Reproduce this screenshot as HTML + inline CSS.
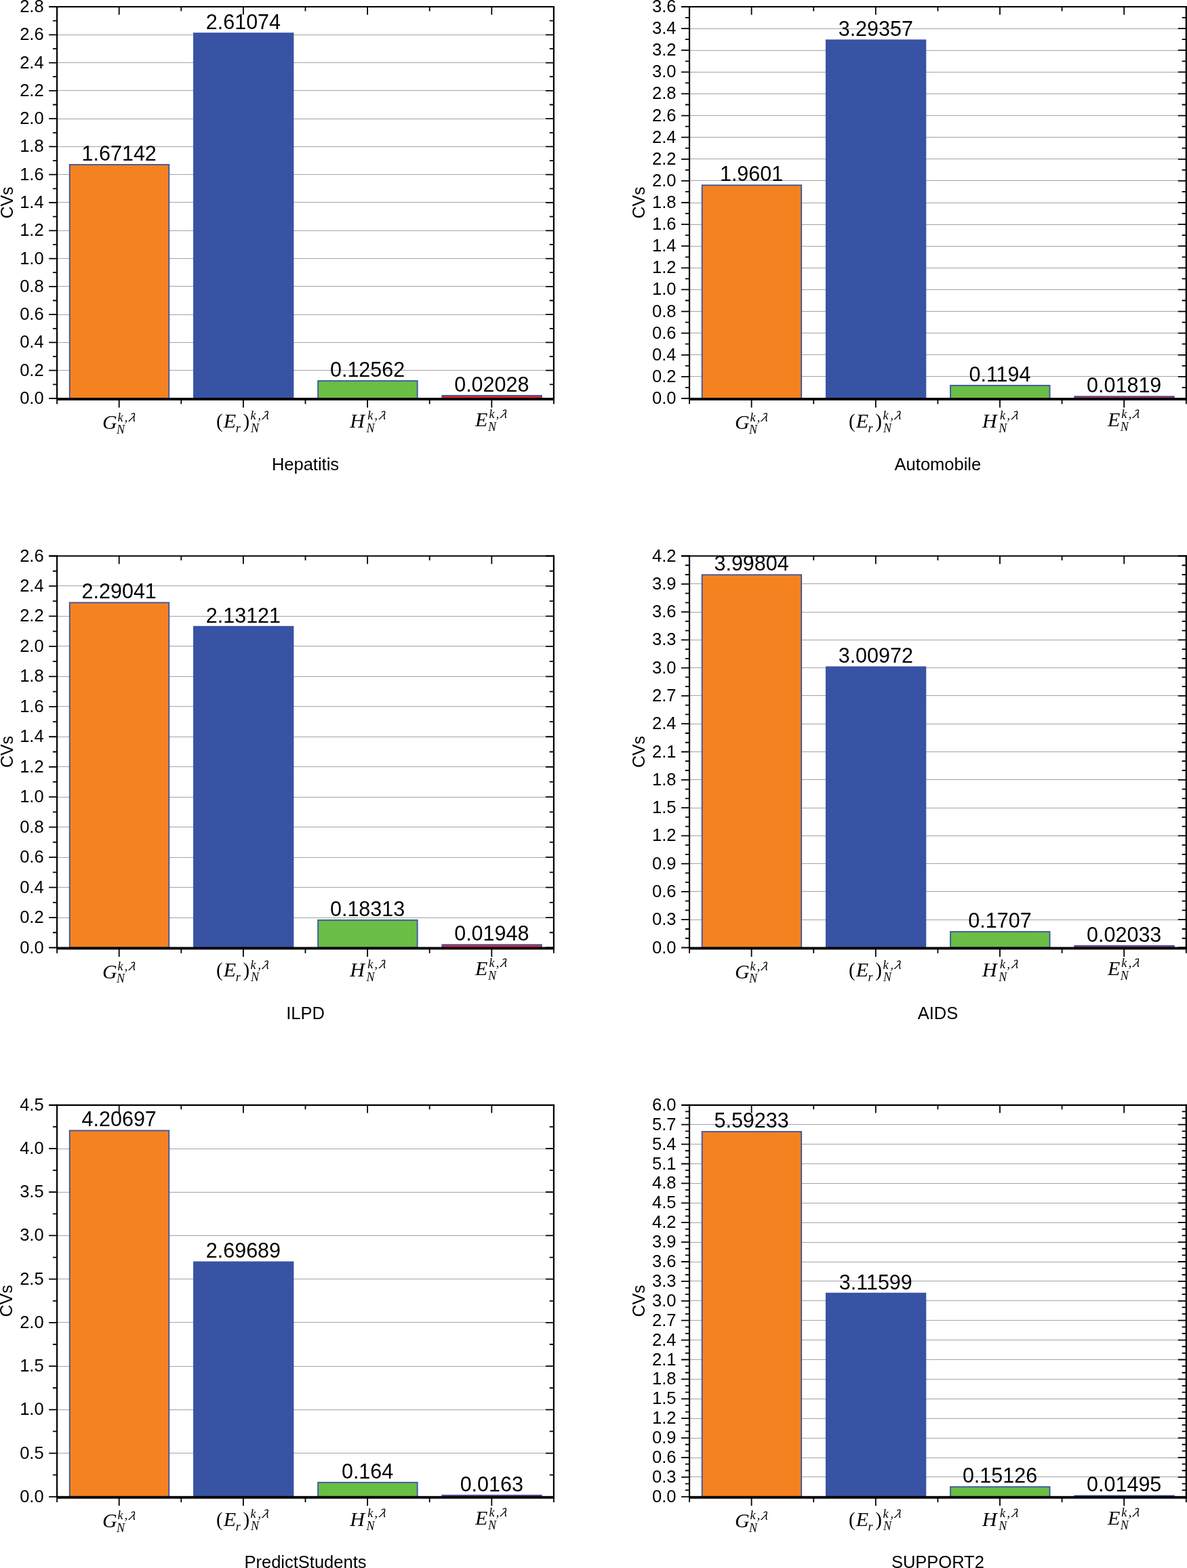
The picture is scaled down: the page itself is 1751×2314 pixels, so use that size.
<!DOCTYPE html>
<html><head><meta charset="utf-8"><title>CVs bar charts</title>
<style>
html,body{margin:0;padding:0;background:#fff;}
body{width:1751px;height:2314px;overflow:hidden;}
svg{display:block;}
</style></head>
<body>
<svg width="1751" height="2314" viewBox="0 0 1751 2314">
<rect width="1751" height="2314" fill="#fff"/>
<line x1="84.1" y1="546.5" x2="816.9" y2="546.5" stroke="#a4a4a4" stroke-width="1.2"/>
<line x1="84.1" y1="505.5" x2="816.9" y2="505.5" stroke="#a4a4a4" stroke-width="1.2"/>
<line x1="84.1" y1="464.5" x2="816.9" y2="464.5" stroke="#a4a4a4" stroke-width="1.2"/>
<line x1="84.1" y1="422.5" x2="816.9" y2="422.5" stroke="#a4a4a4" stroke-width="1.2"/>
<line x1="84.1" y1="381.5" x2="816.9" y2="381.5" stroke="#a4a4a4" stroke-width="1.2"/>
<line x1="84.1" y1="340.5" x2="816.9" y2="340.5" stroke="#a4a4a4" stroke-width="1.2"/>
<line x1="84.1" y1="298.5" x2="816.9" y2="298.5" stroke="#a4a4a4" stroke-width="1.2"/>
<line x1="84.1" y1="257.5" x2="816.9" y2="257.5" stroke="#a4a4a4" stroke-width="1.2"/>
<line x1="84.1" y1="216.5" x2="816.9" y2="216.5" stroke="#a4a4a4" stroke-width="1.2"/>
<line x1="84.1" y1="175.5" x2="816.9" y2="175.5" stroke="#a4a4a4" stroke-width="1.2"/>
<line x1="84.1" y1="133.5" x2="816.9" y2="133.5" stroke="#a4a4a4" stroke-width="1.2"/>
<line x1="84.1" y1="92.5" x2="816.9" y2="92.5" stroke="#a4a4a4" stroke-width="1.2"/>
<line x1="84.1" y1="51.5" x2="816.9" y2="51.5" stroke="#a4a4a4" stroke-width="1.2"/>
<rect x="102.72" y="242.97" width="146.56" height="345.03" fill="#F58220" stroke="#3953A4" stroke-width="1.8"/>
<rect x="285.92" y="49.07" width="146.56" height="538.93" fill="#3953A4" stroke="#3953A4" stroke-width="1.8"/>
<rect x="469.12" y="562.07" width="146.56" height="25.93" fill="#6ABD45" stroke="#3953A4" stroke-width="1.8"/>
<rect x="652.32" y="583.81" width="146.56" height="4.19" fill="#F0202A" stroke="#3953A4" stroke-width="1.8"/>
<line x1="84.1" y1="8.9" x2="84.1" y2="589" stroke="#000" stroke-width="2.2"/>
<line x1="816.9" y1="8.9" x2="816.9" y2="589" stroke="#000" stroke-width="2.2"/>
<line x1="72.1" y1="10" x2="818" y2="10" stroke="#000" stroke-width="2.2"/>
<rect x="84.1" y="587" width="733.9" height="3.9" fill="#000"/>
<text x="64.6" y="596" font-size="25.5" text-anchor="end" font-family="Liberation Sans, Arial, sans-serif">0.0</text>
<text x="64.6" y="554.71" font-size="25.5" text-anchor="end" font-family="Liberation Sans, Arial, sans-serif">0.2</text>
<text x="64.6" y="513.43" font-size="25.5" text-anchor="end" font-family="Liberation Sans, Arial, sans-serif">0.4</text>
<text x="64.6" y="472.14" font-size="25.5" text-anchor="end" font-family="Liberation Sans, Arial, sans-serif">0.6</text>
<text x="64.6" y="430.86" font-size="25.5" text-anchor="end" font-family="Liberation Sans, Arial, sans-serif">0.8</text>
<text x="64.6" y="389.57" font-size="25.5" text-anchor="end" font-family="Liberation Sans, Arial, sans-serif">1.0</text>
<text x="64.6" y="348.29" font-size="25.5" text-anchor="end" font-family="Liberation Sans, Arial, sans-serif">1.2</text>
<text x="64.6" y="307" font-size="25.5" text-anchor="end" font-family="Liberation Sans, Arial, sans-serif">1.4</text>
<text x="64.6" y="265.71" font-size="25.5" text-anchor="end" font-family="Liberation Sans, Arial, sans-serif">1.6</text>
<text x="64.6" y="224.43" font-size="25.5" text-anchor="end" font-family="Liberation Sans, Arial, sans-serif">1.8</text>
<text x="64.6" y="183.14" font-size="25.5" text-anchor="end" font-family="Liberation Sans, Arial, sans-serif">2.0</text>
<text x="64.6" y="141.86" font-size="25.5" text-anchor="end" font-family="Liberation Sans, Arial, sans-serif">2.2</text>
<text x="64.6" y="100.57" font-size="25.5" text-anchor="end" font-family="Liberation Sans, Arial, sans-serif">2.4</text>
<text x="64.6" y="59.29" font-size="25.5" text-anchor="end" font-family="Liberation Sans, Arial, sans-serif">2.6</text>
<text x="64.6" y="18" font-size="25.5" text-anchor="end" font-family="Liberation Sans, Arial, sans-serif">2.8</text>
<path d="M72.1 588H84.1M804.9 588H816.9M77.9 567.36H84.1M810.7 567.36H816.9M72.1 546.71H84.1M804.9 546.71H816.9M77.9 526.07H84.1M810.7 526.07H816.9M72.1 505.43H84.1M804.9 505.43H816.9M77.9 484.79H84.1M810.7 484.79H816.9M72.1 464.14H84.1M804.9 464.14H816.9M77.9 443.5H84.1M810.7 443.5H816.9M72.1 422.86H84.1M804.9 422.86H816.9M77.9 402.21H84.1M810.7 402.21H816.9M72.1 381.57H84.1M804.9 381.57H816.9M77.9 360.93H84.1M810.7 360.93H816.9M72.1 340.29H84.1M804.9 340.29H816.9M77.9 319.64H84.1M810.7 319.64H816.9M72.1 299H84.1M804.9 299H816.9M77.9 278.36H84.1M810.7 278.36H816.9M72.1 257.71H84.1M804.9 257.71H816.9M77.9 237.07H84.1M810.7 237.07H816.9M72.1 216.43H84.1M804.9 216.43H816.9M77.9 195.79H84.1M810.7 195.79H816.9M72.1 175.14H84.1M804.9 175.14H816.9M77.9 154.5H84.1M810.7 154.5H816.9M72.1 133.86H84.1M804.9 133.86H816.9M77.9 113.21H84.1M810.7 113.21H816.9M72.1 92.57H84.1M804.9 92.57H816.9M77.9 71.93H84.1M810.7 71.93H816.9M72.1 51.29H84.1M804.9 51.29H816.9M77.9 30.64H84.1M810.7 30.64H816.9M72.1 10H84.1M804.9 10H816.9M84.1 10V16.4M84.1 588V596.2M175.7 10V21.7M175.7 588V601.5M267.3 10V16.4M267.3 588V596.2M358.9 10V21.7M358.9 588V601.5M450.5 10V16.4M450.5 588V596.2M542.1 10V21.7M542.1 588V601.5M633.7 10V16.4M633.7 588V596.2M725.3 10V21.7M725.3 588V601.5M816.9 10V16.4M816.9 588V596.2" stroke="#000" stroke-width="1.8" fill="none"/>
<text x="175.7" y="236.87" font-size="30.5" text-anchor="middle" font-family="Liberation Sans, Arial, sans-serif">1.67142</text>
<text x="358.9" y="42.97" font-size="30.5" text-anchor="middle" font-family="Liberation Sans, Arial, sans-serif">2.61074</text>
<text x="542.1" y="555.97" font-size="30.5" text-anchor="middle" font-family="Liberation Sans, Arial, sans-serif">0.12562</text>
<text x="725.3" y="577.71" font-size="30.5" text-anchor="middle" font-family="Liberation Sans, Arial, sans-serif">0.02028</text>
<text x="151.05" y="633.1" font-size="30" font-family="Liberation Serif, serif" font-style="italic">G</text>
<text x="173.6" y="621.5" font-size="18" font-family="Liberation Serif, serif" font-style="italic">k</text>
<text x="183.8" y="621.5" font-size="18" font-family="Liberation Serif, serif" font-style="italic">,</text>
<text x="185.2" y="622.7" font-size="18" font-family="IPAGothic, Liberation Serif, serif" font-style="italic">λ</text>
<text x="172.1" y="639.7" font-size="18" font-family="Liberation Serif, serif" font-style="italic">N</text>
<text x="319.1" y="630.86" font-size="29" font-family="Liberation Serif, serif">(</text>
<text x="329.75" y="630.9" font-size="30" font-family="Liberation Serif, serif" font-style="italic">E</text>
<text x="347.65" y="637.8" font-size="18" font-family="Liberation Serif, serif" font-style="italic">r</text>
<text x="358.43" y="630.86" font-size="29" font-family="Liberation Serif, serif">)</text>
<text x="369.6" y="619.3" font-size="18" font-family="Liberation Serif, serif" font-style="italic">k</text>
<text x="380.6" y="619.3" font-size="18" font-family="Liberation Serif, serif" font-style="italic">,</text>
<text x="381.9" y="620.3" font-size="18" font-family="IPAGothic, Liberation Serif, serif" font-style="italic">λ</text>
<text x="370.1" y="637.6" font-size="18" font-family="Liberation Serif, serif" font-style="italic">N</text>
<text x="516.15" y="630.8" font-size="30" font-family="Liberation Serif, serif" font-style="italic">H</text>
<text x="542.2" y="618.6" font-size="18" font-family="Liberation Serif, serif" font-style="italic">k</text>
<text x="552.6" y="618.6" font-size="18" font-family="Liberation Serif, serif" font-style="italic">,</text>
<text x="554.5" y="619.6" font-size="18" font-family="IPAGothic, Liberation Serif, serif" font-style="italic">λ</text>
<text x="540.4" y="637.6" font-size="18" font-family="Liberation Serif, serif" font-style="italic">N</text>
<text x="701.05" y="628.8" font-size="30" font-family="Liberation Serif, serif" font-style="italic">E</text>
<text x="721.4" y="616.8" font-size="18" font-family="Liberation Serif, serif" font-style="italic">k</text>
<text x="731.8" y="616.8" font-size="18" font-family="Liberation Serif, serif" font-style="italic">,</text>
<text x="733.3" y="617.8" font-size="18" font-family="IPAGothic, Liberation Serif, serif" font-style="italic">λ</text>
<text x="719.9" y="635.8" font-size="18" font-family="Liberation Serif, serif" font-style="italic">N</text>
<text x="18.5" y="299" transform="rotate(-90 18.5 299)" font-size="25" text-anchor="middle" font-family="Liberation Sans, Arial, sans-serif">CVs</text>
<text x="450.5" y="693.6" font-size="25.5" text-anchor="middle" font-family="Liberation Sans, Arial, sans-serif">Hepatitis</text>
<line x1="1017" y1="555.5" x2="1749.8" y2="555.5" stroke="#a4a4a4" stroke-width="1.2"/>
<line x1="1017" y1="523.5" x2="1749.8" y2="523.5" stroke="#a4a4a4" stroke-width="1.2"/>
<line x1="1017" y1="491.5" x2="1749.8" y2="491.5" stroke="#a4a4a4" stroke-width="1.2"/>
<line x1="1017" y1="459.5" x2="1749.8" y2="459.5" stroke="#a4a4a4" stroke-width="1.2"/>
<line x1="1017" y1="427.5" x2="1749.8" y2="427.5" stroke="#a4a4a4" stroke-width="1.2"/>
<line x1="1017" y1="395.5" x2="1749.8" y2="395.5" stroke="#a4a4a4" stroke-width="1.2"/>
<line x1="1017" y1="363.5" x2="1749.8" y2="363.5" stroke="#a4a4a4" stroke-width="1.2"/>
<line x1="1017" y1="331.5" x2="1749.8" y2="331.5" stroke="#a4a4a4" stroke-width="1.2"/>
<line x1="1017" y1="299.5" x2="1749.8" y2="299.5" stroke="#a4a4a4" stroke-width="1.2"/>
<line x1="1017" y1="266.5" x2="1749.8" y2="266.5" stroke="#a4a4a4" stroke-width="1.2"/>
<line x1="1017" y1="234.5" x2="1749.8" y2="234.5" stroke="#a4a4a4" stroke-width="1.2"/>
<line x1="1017" y1="202.5" x2="1749.8" y2="202.5" stroke="#a4a4a4" stroke-width="1.2"/>
<line x1="1017" y1="170.5" x2="1749.8" y2="170.5" stroke="#a4a4a4" stroke-width="1.2"/>
<line x1="1017" y1="138.5" x2="1749.8" y2="138.5" stroke="#a4a4a4" stroke-width="1.2"/>
<line x1="1017" y1="106.5" x2="1749.8" y2="106.5" stroke="#a4a4a4" stroke-width="1.2"/>
<line x1="1017" y1="74.5" x2="1749.8" y2="74.5" stroke="#a4a4a4" stroke-width="1.2"/>
<line x1="1017" y1="42.5" x2="1749.8" y2="42.5" stroke="#a4a4a4" stroke-width="1.2"/>
<rect x="1035.62" y="273.3" width="146.56" height="314.7" fill="#F58220" stroke="#3953A4" stroke-width="1.8"/>
<rect x="1218.82" y="59.2" width="146.56" height="528.8" fill="#3953A4" stroke="#3953A4" stroke-width="1.8"/>
<rect x="1402.02" y="568.83" width="146.56" height="19.17" fill="#6ABD45" stroke="#3953A4" stroke-width="1.8"/>
<rect x="1585.22" y="585.08" width="146.56" height="2.92" fill="#F0202A" stroke="#3953A4" stroke-width="1.8"/>
<line x1="1017" y1="8.9" x2="1017" y2="589" stroke="#000" stroke-width="2.2"/>
<line x1="1749.8" y1="8.9" x2="1749.8" y2="589" stroke="#000" stroke-width="2.2"/>
<line x1="1005" y1="10" x2="1750.9" y2="10" stroke="#000" stroke-width="2.2"/>
<rect x="1017" y="587" width="733.9" height="3.9" fill="#000"/>
<text x="997.5" y="596" font-size="25.5" text-anchor="end" font-family="Liberation Sans, Arial, sans-serif">0.0</text>
<text x="997.5" y="563.89" font-size="25.5" text-anchor="end" font-family="Liberation Sans, Arial, sans-serif">0.2</text>
<text x="997.5" y="531.78" font-size="25.5" text-anchor="end" font-family="Liberation Sans, Arial, sans-serif">0.4</text>
<text x="997.5" y="499.67" font-size="25.5" text-anchor="end" font-family="Liberation Sans, Arial, sans-serif">0.6</text>
<text x="997.5" y="467.56" font-size="25.5" text-anchor="end" font-family="Liberation Sans, Arial, sans-serif">0.8</text>
<text x="997.5" y="435.44" font-size="25.5" text-anchor="end" font-family="Liberation Sans, Arial, sans-serif">1.0</text>
<text x="997.5" y="403.33" font-size="25.5" text-anchor="end" font-family="Liberation Sans, Arial, sans-serif">1.2</text>
<text x="997.5" y="371.22" font-size="25.5" text-anchor="end" font-family="Liberation Sans, Arial, sans-serif">1.4</text>
<text x="997.5" y="339.11" font-size="25.5" text-anchor="end" font-family="Liberation Sans, Arial, sans-serif">1.6</text>
<text x="997.5" y="307" font-size="25.5" text-anchor="end" font-family="Liberation Sans, Arial, sans-serif">1.8</text>
<text x="997.5" y="274.89" font-size="25.5" text-anchor="end" font-family="Liberation Sans, Arial, sans-serif">2.0</text>
<text x="997.5" y="242.78" font-size="25.5" text-anchor="end" font-family="Liberation Sans, Arial, sans-serif">2.2</text>
<text x="997.5" y="210.67" font-size="25.5" text-anchor="end" font-family="Liberation Sans, Arial, sans-serif">2.4</text>
<text x="997.5" y="178.56" font-size="25.5" text-anchor="end" font-family="Liberation Sans, Arial, sans-serif">2.6</text>
<text x="997.5" y="146.44" font-size="25.5" text-anchor="end" font-family="Liberation Sans, Arial, sans-serif">2.8</text>
<text x="997.5" y="114.33" font-size="25.5" text-anchor="end" font-family="Liberation Sans, Arial, sans-serif">3.0</text>
<text x="997.5" y="82.22" font-size="25.5" text-anchor="end" font-family="Liberation Sans, Arial, sans-serif">3.2</text>
<text x="997.5" y="50.11" font-size="25.5" text-anchor="end" font-family="Liberation Sans, Arial, sans-serif">3.4</text>
<text x="997.5" y="18" font-size="25.5" text-anchor="end" font-family="Liberation Sans, Arial, sans-serif">3.6</text>
<path d="M1005 588H1017M1737.8 588H1749.8M1010.8 571.94H1017M1743.6 571.94H1749.8M1005 555.89H1017M1737.8 555.89H1749.8M1010.8 539.83H1017M1743.6 539.83H1749.8M1005 523.78H1017M1737.8 523.78H1749.8M1010.8 507.72H1017M1743.6 507.72H1749.8M1005 491.67H1017M1737.8 491.67H1749.8M1010.8 475.61H1017M1743.6 475.61H1749.8M1005 459.56H1017M1737.8 459.56H1749.8M1010.8 443.5H1017M1743.6 443.5H1749.8M1005 427.44H1017M1737.8 427.44H1749.8M1010.8 411.39H1017M1743.6 411.39H1749.8M1005 395.33H1017M1737.8 395.33H1749.8M1010.8 379.28H1017M1743.6 379.28H1749.8M1005 363.22H1017M1737.8 363.22H1749.8M1010.8 347.17H1017M1743.6 347.17H1749.8M1005 331.11H1017M1737.8 331.11H1749.8M1010.8 315.06H1017M1743.6 315.06H1749.8M1005 299H1017M1737.8 299H1749.8M1010.8 282.94H1017M1743.6 282.94H1749.8M1005 266.89H1017M1737.8 266.89H1749.8M1010.8 250.83H1017M1743.6 250.83H1749.8M1005 234.78H1017M1737.8 234.78H1749.8M1010.8 218.72H1017M1743.6 218.72H1749.8M1005 202.67H1017M1737.8 202.67H1749.8M1010.8 186.61H1017M1743.6 186.61H1749.8M1005 170.56H1017M1737.8 170.56H1749.8M1010.8 154.5H1017M1743.6 154.5H1749.8M1005 138.44H1017M1737.8 138.44H1749.8M1010.8 122.39H1017M1743.6 122.39H1749.8M1005 106.33H1017M1737.8 106.33H1749.8M1010.8 90.28H1017M1743.6 90.28H1749.8M1005 74.22H1017M1737.8 74.22H1749.8M1010.8 58.17H1017M1743.6 58.17H1749.8M1005 42.11H1017M1737.8 42.11H1749.8M1010.8 26.06H1017M1743.6 26.06H1749.8M1005 10H1017M1737.8 10H1749.8M1017 10V16.4M1017 588V596.2M1108.6 10V21.7M1108.6 588V601.5M1200.2 10V16.4M1200.2 588V596.2M1291.8 10V21.7M1291.8 588V601.5M1383.4 10V16.4M1383.4 588V596.2M1475 10V21.7M1475 588V601.5M1566.6 10V16.4M1566.6 588V596.2M1658.2 10V21.7M1658.2 588V601.5M1749.8 10V16.4M1749.8 588V596.2" stroke="#000" stroke-width="1.8" fill="none"/>
<text x="1108.6" y="267.2" font-size="30.5" text-anchor="middle" font-family="Liberation Sans, Arial, sans-serif">1.9601</text>
<text x="1291.8" y="53.1" font-size="30.5" text-anchor="middle" font-family="Liberation Sans, Arial, sans-serif">3.29357</text>
<text x="1475" y="562.73" font-size="30.5" text-anchor="middle" font-family="Liberation Sans, Arial, sans-serif">0.1194</text>
<text x="1658.2" y="578.98" font-size="30.5" text-anchor="middle" font-family="Liberation Sans, Arial, sans-serif">0.01819</text>
<text x="1083.95" y="633.1" font-size="30" font-family="Liberation Serif, serif" font-style="italic">G</text>
<text x="1106.5" y="621.5" font-size="18" font-family="Liberation Serif, serif" font-style="italic">k</text>
<text x="1116.7" y="621.5" font-size="18" font-family="Liberation Serif, serif" font-style="italic">,</text>
<text x="1118.1" y="622.7" font-size="18" font-family="IPAGothic, Liberation Serif, serif" font-style="italic">λ</text>
<text x="1105" y="639.7" font-size="18" font-family="Liberation Serif, serif" font-style="italic">N</text>
<text x="1252" y="630.86" font-size="29" font-family="Liberation Serif, serif">(</text>
<text x="1262.65" y="630.9" font-size="30" font-family="Liberation Serif, serif" font-style="italic">E</text>
<text x="1280.55" y="637.8" font-size="18" font-family="Liberation Serif, serif" font-style="italic">r</text>
<text x="1291.33" y="630.86" font-size="29" font-family="Liberation Serif, serif">)</text>
<text x="1302.5" y="619.3" font-size="18" font-family="Liberation Serif, serif" font-style="italic">k</text>
<text x="1313.5" y="619.3" font-size="18" font-family="Liberation Serif, serif" font-style="italic">,</text>
<text x="1314.8" y="620.3" font-size="18" font-family="IPAGothic, Liberation Serif, serif" font-style="italic">λ</text>
<text x="1303" y="637.6" font-size="18" font-family="Liberation Serif, serif" font-style="italic">N</text>
<text x="1449.05" y="630.8" font-size="30" font-family="Liberation Serif, serif" font-style="italic">H</text>
<text x="1475.1" y="618.6" font-size="18" font-family="Liberation Serif, serif" font-style="italic">k</text>
<text x="1485.5" y="618.6" font-size="18" font-family="Liberation Serif, serif" font-style="italic">,</text>
<text x="1487.4" y="619.6" font-size="18" font-family="IPAGothic, Liberation Serif, serif" font-style="italic">λ</text>
<text x="1473.3" y="637.6" font-size="18" font-family="Liberation Serif, serif" font-style="italic">N</text>
<text x="1633.95" y="628.8" font-size="30" font-family="Liberation Serif, serif" font-style="italic">E</text>
<text x="1654.3" y="616.8" font-size="18" font-family="Liberation Serif, serif" font-style="italic">k</text>
<text x="1664.7" y="616.8" font-size="18" font-family="Liberation Serif, serif" font-style="italic">,</text>
<text x="1666.2" y="617.8" font-size="18" font-family="IPAGothic, Liberation Serif, serif" font-style="italic">λ</text>
<text x="1652.8" y="635.8" font-size="18" font-family="Liberation Serif, serif" font-style="italic">N</text>
<text x="951.4" y="299" transform="rotate(-90 951.4 299)" font-size="25" text-anchor="middle" font-family="Liberation Sans, Arial, sans-serif">CVs</text>
<text x="1383.4" y="693.6" font-size="25.5" text-anchor="middle" font-family="Liberation Sans, Arial, sans-serif">Automobile</text>
<line x1="84.1" y1="1354.5" x2="816.9" y2="1354.5" stroke="#a4a4a4" stroke-width="1.2"/>
<line x1="84.1" y1="1309.5" x2="816.9" y2="1309.5" stroke="#a4a4a4" stroke-width="1.2"/>
<line x1="84.1" y1="1265.5" x2="816.9" y2="1265.5" stroke="#a4a4a4" stroke-width="1.2"/>
<line x1="84.1" y1="1220.5" x2="816.9" y2="1220.5" stroke="#a4a4a4" stroke-width="1.2"/>
<line x1="84.1" y1="1176.5" x2="816.9" y2="1176.5" stroke="#a4a4a4" stroke-width="1.2"/>
<line x1="84.1" y1="1131.5" x2="816.9" y2="1131.5" stroke="#a4a4a4" stroke-width="1.2"/>
<line x1="84.1" y1="1087.5" x2="816.9" y2="1087.5" stroke="#a4a4a4" stroke-width="1.2"/>
<line x1="84.1" y1="1042.5" x2="816.9" y2="1042.5" stroke="#a4a4a4" stroke-width="1.2"/>
<line x1="84.1" y1="998.5" x2="816.9" y2="998.5" stroke="#a4a4a4" stroke-width="1.2"/>
<line x1="84.1" y1="953.5" x2="816.9" y2="953.5" stroke="#a4a4a4" stroke-width="1.2"/>
<line x1="84.1" y1="909.5" x2="816.9" y2="909.5" stroke="#a4a4a4" stroke-width="1.2"/>
<line x1="84.1" y1="864.5" x2="816.9" y2="864.5" stroke="#a4a4a4" stroke-width="1.2"/>
<rect x="102.72" y="889.32" width="146.56" height="509.18" fill="#F58220" stroke="#3953A4" stroke-width="1.8"/>
<rect x="285.92" y="924.72" width="146.56" height="473.78" fill="#3953A4" stroke="#3953A4" stroke-width="1.8"/>
<rect x="469.12" y="1357.79" width="146.56" height="40.71" fill="#6ABD45" stroke="#3953A4" stroke-width="1.8"/>
<rect x="652.32" y="1394.17" width="146.56" height="4.33" fill="#F0202A" stroke="#3953A4" stroke-width="1.8"/>
<line x1="84.1" y1="819.4" x2="84.1" y2="1399.5" stroke="#000" stroke-width="2.2"/>
<line x1="816.9" y1="819.4" x2="816.9" y2="1399.5" stroke="#000" stroke-width="2.2"/>
<line x1="72.1" y1="820.5" x2="818" y2="820.5" stroke="#000" stroke-width="2.2"/>
<rect x="84.1" y="1397.5" width="733.9" height="3.9" fill="#000"/>
<text x="64.6" y="1406.5" font-size="25.5" text-anchor="end" font-family="Liberation Sans, Arial, sans-serif">0.0</text>
<text x="64.6" y="1362.04" font-size="25.5" text-anchor="end" font-family="Liberation Sans, Arial, sans-serif">0.2</text>
<text x="64.6" y="1317.58" font-size="25.5" text-anchor="end" font-family="Liberation Sans, Arial, sans-serif">0.4</text>
<text x="64.6" y="1273.12" font-size="25.5" text-anchor="end" font-family="Liberation Sans, Arial, sans-serif">0.6</text>
<text x="64.6" y="1228.65" font-size="25.5" text-anchor="end" font-family="Liberation Sans, Arial, sans-serif">0.8</text>
<text x="64.6" y="1184.19" font-size="25.5" text-anchor="end" font-family="Liberation Sans, Arial, sans-serif">1.0</text>
<text x="64.6" y="1139.73" font-size="25.5" text-anchor="end" font-family="Liberation Sans, Arial, sans-serif">1.2</text>
<text x="64.6" y="1095.27" font-size="25.5" text-anchor="end" font-family="Liberation Sans, Arial, sans-serif">1.4</text>
<text x="64.6" y="1050.81" font-size="25.5" text-anchor="end" font-family="Liberation Sans, Arial, sans-serif">1.6</text>
<text x="64.6" y="1006.35" font-size="25.5" text-anchor="end" font-family="Liberation Sans, Arial, sans-serif">1.8</text>
<text x="64.6" y="961.88" font-size="25.5" text-anchor="end" font-family="Liberation Sans, Arial, sans-serif">2.0</text>
<text x="64.6" y="917.42" font-size="25.5" text-anchor="end" font-family="Liberation Sans, Arial, sans-serif">2.2</text>
<text x="64.6" y="872.96" font-size="25.5" text-anchor="end" font-family="Liberation Sans, Arial, sans-serif">2.4</text>
<text x="64.6" y="828.5" font-size="25.5" text-anchor="end" font-family="Liberation Sans, Arial, sans-serif">2.6</text>
<path d="M72.1 1398.5H84.1M804.9 1398.5H816.9M77.9 1376.27H84.1M810.7 1376.27H816.9M72.1 1354.04H84.1M804.9 1354.04H816.9M77.9 1331.81H84.1M810.7 1331.81H816.9M72.1 1309.58H84.1M804.9 1309.58H816.9M77.9 1287.35H84.1M810.7 1287.35H816.9M72.1 1265.12H84.1M804.9 1265.12H816.9M77.9 1242.88H84.1M810.7 1242.88H816.9M72.1 1220.65H84.1M804.9 1220.65H816.9M77.9 1198.42H84.1M810.7 1198.42H816.9M72.1 1176.19H84.1M804.9 1176.19H816.9M77.9 1153.96H84.1M810.7 1153.96H816.9M72.1 1131.73H84.1M804.9 1131.73H816.9M77.9 1109.5H84.1M810.7 1109.5H816.9M72.1 1087.27H84.1M804.9 1087.27H816.9M77.9 1065.04H84.1M810.7 1065.04H816.9M72.1 1042.81H84.1M804.9 1042.81H816.9M77.9 1020.58H84.1M810.7 1020.58H816.9M72.1 998.35H84.1M804.9 998.35H816.9M77.9 976.12H84.1M810.7 976.12H816.9M72.1 953.88H84.1M804.9 953.88H816.9M77.9 931.65H84.1M810.7 931.65H816.9M72.1 909.42H84.1M804.9 909.42H816.9M77.9 887.19H84.1M810.7 887.19H816.9M72.1 864.96H84.1M804.9 864.96H816.9M77.9 842.73H84.1M810.7 842.73H816.9M72.1 820.5H84.1M804.9 820.5H816.9M84.1 820.5V826.9M84.1 1398.5V1406.7M175.7 820.5V832.2M175.7 1398.5V1412M267.3 820.5V826.9M267.3 1398.5V1406.7M358.9 820.5V832.2M358.9 1398.5V1412M450.5 820.5V826.9M450.5 1398.5V1406.7M542.1 820.5V832.2M542.1 1398.5V1412M633.7 820.5V826.9M633.7 1398.5V1406.7M725.3 820.5V832.2M725.3 1398.5V1412M816.9 820.5V826.9M816.9 1398.5V1406.7" stroke="#000" stroke-width="1.8" fill="none"/>
<text x="175.7" y="883.22" font-size="30.5" text-anchor="middle" font-family="Liberation Sans, Arial, sans-serif">2.29041</text>
<text x="358.9" y="918.62" font-size="30.5" text-anchor="middle" font-family="Liberation Sans, Arial, sans-serif">2.13121</text>
<text x="542.1" y="1351.69" font-size="30.5" text-anchor="middle" font-family="Liberation Sans, Arial, sans-serif">0.18313</text>
<text x="725.3" y="1388.07" font-size="30.5" text-anchor="middle" font-family="Liberation Sans, Arial, sans-serif">0.01948</text>
<text x="151.05" y="1443.6" font-size="30" font-family="Liberation Serif, serif" font-style="italic">G</text>
<text x="173.6" y="1432" font-size="18" font-family="Liberation Serif, serif" font-style="italic">k</text>
<text x="183.8" y="1432" font-size="18" font-family="Liberation Serif, serif" font-style="italic">,</text>
<text x="185.2" y="1433.2" font-size="18" font-family="IPAGothic, Liberation Serif, serif" font-style="italic">λ</text>
<text x="172.1" y="1450.2" font-size="18" font-family="Liberation Serif, serif" font-style="italic">N</text>
<text x="319.1" y="1441.36" font-size="29" font-family="Liberation Serif, serif">(</text>
<text x="329.75" y="1441.4" font-size="30" font-family="Liberation Serif, serif" font-style="italic">E</text>
<text x="347.65" y="1448.3" font-size="18" font-family="Liberation Serif, serif" font-style="italic">r</text>
<text x="358.43" y="1441.36" font-size="29" font-family="Liberation Serif, serif">)</text>
<text x="369.6" y="1429.8" font-size="18" font-family="Liberation Serif, serif" font-style="italic">k</text>
<text x="380.6" y="1429.8" font-size="18" font-family="Liberation Serif, serif" font-style="italic">,</text>
<text x="381.9" y="1430.8" font-size="18" font-family="IPAGothic, Liberation Serif, serif" font-style="italic">λ</text>
<text x="370.1" y="1448.1" font-size="18" font-family="Liberation Serif, serif" font-style="italic">N</text>
<text x="516.15" y="1441.3" font-size="30" font-family="Liberation Serif, serif" font-style="italic">H</text>
<text x="542.2" y="1429.1" font-size="18" font-family="Liberation Serif, serif" font-style="italic">k</text>
<text x="552.6" y="1429.1" font-size="18" font-family="Liberation Serif, serif" font-style="italic">,</text>
<text x="554.5" y="1430.1" font-size="18" font-family="IPAGothic, Liberation Serif, serif" font-style="italic">λ</text>
<text x="540.4" y="1448.1" font-size="18" font-family="Liberation Serif, serif" font-style="italic">N</text>
<text x="701.05" y="1439.3" font-size="30" font-family="Liberation Serif, serif" font-style="italic">E</text>
<text x="721.4" y="1427.3" font-size="18" font-family="Liberation Serif, serif" font-style="italic">k</text>
<text x="731.8" y="1427.3" font-size="18" font-family="Liberation Serif, serif" font-style="italic">,</text>
<text x="733.3" y="1428.3" font-size="18" font-family="IPAGothic, Liberation Serif, serif" font-style="italic">λ</text>
<text x="719.9" y="1446.3" font-size="18" font-family="Liberation Serif, serif" font-style="italic">N</text>
<text x="18.5" y="1109.5" transform="rotate(-90 18.5 1109.5)" font-size="25" text-anchor="middle" font-family="Liberation Sans, Arial, sans-serif">CVs</text>
<text x="450.5" y="1504.1" font-size="25.5" text-anchor="middle" font-family="Liberation Sans, Arial, sans-serif">ILPD</text>
<line x1="1017" y1="1357.5" x2="1749.8" y2="1357.5" stroke="#a4a4a4" stroke-width="1.2"/>
<line x1="1017" y1="1315.5" x2="1749.8" y2="1315.5" stroke="#a4a4a4" stroke-width="1.2"/>
<line x1="1017" y1="1274.5" x2="1749.8" y2="1274.5" stroke="#a4a4a4" stroke-width="1.2"/>
<line x1="1017" y1="1233.5" x2="1749.8" y2="1233.5" stroke="#a4a4a4" stroke-width="1.2"/>
<line x1="1017" y1="1192.5" x2="1749.8" y2="1192.5" stroke="#a4a4a4" stroke-width="1.2"/>
<line x1="1017" y1="1150.5" x2="1749.8" y2="1150.5" stroke="#a4a4a4" stroke-width="1.2"/>
<line x1="1017" y1="1109.5" x2="1749.8" y2="1109.5" stroke="#a4a4a4" stroke-width="1.2"/>
<line x1="1017" y1="1068.5" x2="1749.8" y2="1068.5" stroke="#a4a4a4" stroke-width="1.2"/>
<line x1="1017" y1="1026.5" x2="1749.8" y2="1026.5" stroke="#a4a4a4" stroke-width="1.2"/>
<line x1="1017" y1="985.5" x2="1749.8" y2="985.5" stroke="#a4a4a4" stroke-width="1.2"/>
<line x1="1017" y1="944.5" x2="1749.8" y2="944.5" stroke="#a4a4a4" stroke-width="1.2"/>
<line x1="1017" y1="903.5" x2="1749.8" y2="903.5" stroke="#a4a4a4" stroke-width="1.2"/>
<line x1="1017" y1="861.5" x2="1749.8" y2="861.5" stroke="#a4a4a4" stroke-width="1.2"/>
<rect x="1035.62" y="848.29" width="146.56" height="550.21" fill="#F58220" stroke="#3953A4" stroke-width="1.8"/>
<rect x="1218.82" y="984.31" width="146.56" height="414.19" fill="#3953A4" stroke="#3953A4" stroke-width="1.8"/>
<rect x="1402.02" y="1375.01" width="146.56" height="23.49" fill="#6ABD45" stroke="#3953A4" stroke-width="1.8"/>
<rect x="1585.22" y="1395.7" width="146.56" height="2.8" fill="#F0202A" stroke="#3953A4" stroke-width="1.8"/>
<line x1="1017" y1="819.4" x2="1017" y2="1399.5" stroke="#000" stroke-width="2.2"/>
<line x1="1749.8" y1="819.4" x2="1749.8" y2="1399.5" stroke="#000" stroke-width="2.2"/>
<line x1="1005" y1="820.5" x2="1750.9" y2="820.5" stroke="#000" stroke-width="2.2"/>
<rect x="1017" y="1397.5" width="733.9" height="3.9" fill="#000"/>
<text x="997.5" y="1406.5" font-size="25.5" text-anchor="end" font-family="Liberation Sans, Arial, sans-serif">0.0</text>
<text x="997.5" y="1365.21" font-size="25.5" text-anchor="end" font-family="Liberation Sans, Arial, sans-serif">0.3</text>
<text x="997.5" y="1323.93" font-size="25.5" text-anchor="end" font-family="Liberation Sans, Arial, sans-serif">0.6</text>
<text x="997.5" y="1282.64" font-size="25.5" text-anchor="end" font-family="Liberation Sans, Arial, sans-serif">0.9</text>
<text x="997.5" y="1241.36" font-size="25.5" text-anchor="end" font-family="Liberation Sans, Arial, sans-serif">1.2</text>
<text x="997.5" y="1200.07" font-size="25.5" text-anchor="end" font-family="Liberation Sans, Arial, sans-serif">1.5</text>
<text x="997.5" y="1158.79" font-size="25.5" text-anchor="end" font-family="Liberation Sans, Arial, sans-serif">1.8</text>
<text x="997.5" y="1117.5" font-size="25.5" text-anchor="end" font-family="Liberation Sans, Arial, sans-serif">2.1</text>
<text x="997.5" y="1076.21" font-size="25.5" text-anchor="end" font-family="Liberation Sans, Arial, sans-serif">2.4</text>
<text x="997.5" y="1034.93" font-size="25.5" text-anchor="end" font-family="Liberation Sans, Arial, sans-serif">2.7</text>
<text x="997.5" y="993.64" font-size="25.5" text-anchor="end" font-family="Liberation Sans, Arial, sans-serif">3.0</text>
<text x="997.5" y="952.36" font-size="25.5" text-anchor="end" font-family="Liberation Sans, Arial, sans-serif">3.3</text>
<text x="997.5" y="911.07" font-size="25.5" text-anchor="end" font-family="Liberation Sans, Arial, sans-serif">3.6</text>
<text x="997.5" y="869.79" font-size="25.5" text-anchor="end" font-family="Liberation Sans, Arial, sans-serif">3.9</text>
<text x="997.5" y="828.5" font-size="25.5" text-anchor="end" font-family="Liberation Sans, Arial, sans-serif">4.2</text>
<path d="M1005 1398.5H1017M1737.8 1398.5H1749.8M1010.8 1384.74H1017M1743.6 1384.74H1749.8M1010.8 1370.98H1017M1743.6 1370.98H1749.8M1005 1357.21H1017M1737.8 1357.21H1749.8M1010.8 1343.45H1017M1743.6 1343.45H1749.8M1010.8 1329.69H1017M1743.6 1329.69H1749.8M1005 1315.93H1017M1737.8 1315.93H1749.8M1010.8 1302.17H1017M1743.6 1302.17H1749.8M1010.8 1288.4H1017M1743.6 1288.4H1749.8M1005 1274.64H1017M1737.8 1274.64H1749.8M1010.8 1260.88H1017M1743.6 1260.88H1749.8M1010.8 1247.12H1017M1743.6 1247.12H1749.8M1005 1233.36H1017M1737.8 1233.36H1749.8M1010.8 1219.6H1017M1743.6 1219.6H1749.8M1010.8 1205.83H1017M1743.6 1205.83H1749.8M1005 1192.07H1017M1737.8 1192.07H1749.8M1010.8 1178.31H1017M1743.6 1178.31H1749.8M1010.8 1164.55H1017M1743.6 1164.55H1749.8M1005 1150.79H1017M1737.8 1150.79H1749.8M1010.8 1137.02H1017M1743.6 1137.02H1749.8M1010.8 1123.26H1017M1743.6 1123.26H1749.8M1005 1109.5H1017M1737.8 1109.5H1749.8M1010.8 1095.74H1017M1743.6 1095.74H1749.8M1010.8 1081.98H1017M1743.6 1081.98H1749.8M1005 1068.21H1017M1737.8 1068.21H1749.8M1010.8 1054.45H1017M1743.6 1054.45H1749.8M1010.8 1040.69H1017M1743.6 1040.69H1749.8M1005 1026.93H1017M1737.8 1026.93H1749.8M1010.8 1013.17H1017M1743.6 1013.17H1749.8M1010.8 999.4H1017M1743.6 999.4H1749.8M1005 985.64H1017M1737.8 985.64H1749.8M1010.8 971.88H1017M1743.6 971.88H1749.8M1010.8 958.12H1017M1743.6 958.12H1749.8M1005 944.36H1017M1737.8 944.36H1749.8M1010.8 930.6H1017M1743.6 930.6H1749.8M1010.8 916.83H1017M1743.6 916.83H1749.8M1005 903.07H1017M1737.8 903.07H1749.8M1010.8 889.31H1017M1743.6 889.31H1749.8M1010.8 875.55H1017M1743.6 875.55H1749.8M1005 861.79H1017M1737.8 861.79H1749.8M1010.8 848.02H1017M1743.6 848.02H1749.8M1010.8 834.26H1017M1743.6 834.26H1749.8M1005 820.5H1017M1737.8 820.5H1749.8M1017 820.5V826.9M1017 1398.5V1406.7M1108.6 820.5V832.2M1108.6 1398.5V1412M1200.2 820.5V826.9M1200.2 1398.5V1406.7M1291.8 820.5V832.2M1291.8 1398.5V1412M1383.4 820.5V826.9M1383.4 1398.5V1406.7M1475 820.5V832.2M1475 1398.5V1412M1566.6 820.5V826.9M1566.6 1398.5V1406.7M1658.2 820.5V832.2M1658.2 1398.5V1412M1749.8 820.5V826.9M1749.8 1398.5V1406.7" stroke="#000" stroke-width="1.8" fill="none"/>
<text x="1108.6" y="842.19" font-size="30.5" text-anchor="middle" font-family="Liberation Sans, Arial, sans-serif">3.99804</text>
<text x="1291.8" y="978.21" font-size="30.5" text-anchor="middle" font-family="Liberation Sans, Arial, sans-serif">3.00972</text>
<text x="1475" y="1368.91" font-size="30.5" text-anchor="middle" font-family="Liberation Sans, Arial, sans-serif">0.1707</text>
<text x="1658.2" y="1389.6" font-size="30.5" text-anchor="middle" font-family="Liberation Sans, Arial, sans-serif">0.02033</text>
<text x="1083.95" y="1443.6" font-size="30" font-family="Liberation Serif, serif" font-style="italic">G</text>
<text x="1106.5" y="1432" font-size="18" font-family="Liberation Serif, serif" font-style="italic">k</text>
<text x="1116.7" y="1432" font-size="18" font-family="Liberation Serif, serif" font-style="italic">,</text>
<text x="1118.1" y="1433.2" font-size="18" font-family="IPAGothic, Liberation Serif, serif" font-style="italic">λ</text>
<text x="1105" y="1450.2" font-size="18" font-family="Liberation Serif, serif" font-style="italic">N</text>
<text x="1252" y="1441.36" font-size="29" font-family="Liberation Serif, serif">(</text>
<text x="1262.65" y="1441.4" font-size="30" font-family="Liberation Serif, serif" font-style="italic">E</text>
<text x="1280.55" y="1448.3" font-size="18" font-family="Liberation Serif, serif" font-style="italic">r</text>
<text x="1291.33" y="1441.36" font-size="29" font-family="Liberation Serif, serif">)</text>
<text x="1302.5" y="1429.8" font-size="18" font-family="Liberation Serif, serif" font-style="italic">k</text>
<text x="1313.5" y="1429.8" font-size="18" font-family="Liberation Serif, serif" font-style="italic">,</text>
<text x="1314.8" y="1430.8" font-size="18" font-family="IPAGothic, Liberation Serif, serif" font-style="italic">λ</text>
<text x="1303" y="1448.1" font-size="18" font-family="Liberation Serif, serif" font-style="italic">N</text>
<text x="1449.05" y="1441.3" font-size="30" font-family="Liberation Serif, serif" font-style="italic">H</text>
<text x="1475.1" y="1429.1" font-size="18" font-family="Liberation Serif, serif" font-style="italic">k</text>
<text x="1485.5" y="1429.1" font-size="18" font-family="Liberation Serif, serif" font-style="italic">,</text>
<text x="1487.4" y="1430.1" font-size="18" font-family="IPAGothic, Liberation Serif, serif" font-style="italic">λ</text>
<text x="1473.3" y="1448.1" font-size="18" font-family="Liberation Serif, serif" font-style="italic">N</text>
<text x="1633.95" y="1439.3" font-size="30" font-family="Liberation Serif, serif" font-style="italic">E</text>
<text x="1654.3" y="1427.3" font-size="18" font-family="Liberation Serif, serif" font-style="italic">k</text>
<text x="1664.7" y="1427.3" font-size="18" font-family="Liberation Serif, serif" font-style="italic">,</text>
<text x="1666.2" y="1428.3" font-size="18" font-family="IPAGothic, Liberation Serif, serif" font-style="italic">λ</text>
<text x="1652.8" y="1446.3" font-size="18" font-family="Liberation Serif, serif" font-style="italic">N</text>
<text x="951.4" y="1109.5" transform="rotate(-90 951.4 1109.5)" font-size="25" text-anchor="middle" font-family="Liberation Sans, Arial, sans-serif">CVs</text>
<text x="1383.4" y="1504.1" font-size="25.5" text-anchor="middle" font-family="Liberation Sans, Arial, sans-serif">AIDS</text>
<line x1="84.1" y1="2144.5" x2="816.9" y2="2144.5" stroke="#a4a4a4" stroke-width="1.2"/>
<line x1="84.1" y1="2080.5" x2="816.9" y2="2080.5" stroke="#a4a4a4" stroke-width="1.2"/>
<line x1="84.1" y1="2016.5" x2="816.9" y2="2016.5" stroke="#a4a4a4" stroke-width="1.2"/>
<line x1="84.1" y1="1951.5" x2="816.9" y2="1951.5" stroke="#a4a4a4" stroke-width="1.2"/>
<line x1="84.1" y1="1887.5" x2="816.9" y2="1887.5" stroke="#a4a4a4" stroke-width="1.2"/>
<line x1="84.1" y1="1823.5" x2="816.9" y2="1823.5" stroke="#a4a4a4" stroke-width="1.2"/>
<line x1="84.1" y1="1759.5" x2="816.9" y2="1759.5" stroke="#a4a4a4" stroke-width="1.2"/>
<line x1="84.1" y1="1695.5" x2="816.9" y2="1695.5" stroke="#a4a4a4" stroke-width="1.2"/>
<rect x="102.72" y="1668.44" width="146.56" height="540.36" fill="#F58220" stroke="#3953A4" stroke-width="1.8"/>
<rect x="285.92" y="1862.4" width="146.56" height="346.4" fill="#3953A4" stroke="#3953A4" stroke-width="1.8"/>
<rect x="469.12" y="2187.74" width="146.56" height="21.06" fill="#6ABD45" stroke="#3953A4" stroke-width="1.8"/>
<rect x="652.32" y="2206.71" width="146.56" height="2.09" fill="#F0202A" stroke="#3953A4" stroke-width="1.8"/>
<line x1="84.1" y1="1629.7" x2="84.1" y2="2209.8" stroke="#000" stroke-width="2.2"/>
<line x1="816.9" y1="1629.7" x2="816.9" y2="2209.8" stroke="#000" stroke-width="2.2"/>
<line x1="72.1" y1="1630.8" x2="818" y2="1630.8" stroke="#000" stroke-width="2.2"/>
<rect x="84.1" y="2207.8" width="733.9" height="3.9" fill="#000"/>
<text x="64.6" y="2216.8" font-size="25.5" text-anchor="end" font-family="Liberation Sans, Arial, sans-serif">0.0</text>
<text x="64.6" y="2152.58" font-size="25.5" text-anchor="end" font-family="Liberation Sans, Arial, sans-serif">0.5</text>
<text x="64.6" y="2088.36" font-size="25.5" text-anchor="end" font-family="Liberation Sans, Arial, sans-serif">1.0</text>
<text x="64.6" y="2024.13" font-size="25.5" text-anchor="end" font-family="Liberation Sans, Arial, sans-serif">1.5</text>
<text x="64.6" y="1959.91" font-size="25.5" text-anchor="end" font-family="Liberation Sans, Arial, sans-serif">2.0</text>
<text x="64.6" y="1895.69" font-size="25.5" text-anchor="end" font-family="Liberation Sans, Arial, sans-serif">2.5</text>
<text x="64.6" y="1831.47" font-size="25.5" text-anchor="end" font-family="Liberation Sans, Arial, sans-serif">3.0</text>
<text x="64.6" y="1767.24" font-size="25.5" text-anchor="end" font-family="Liberation Sans, Arial, sans-serif">3.5</text>
<text x="64.6" y="1703.02" font-size="25.5" text-anchor="end" font-family="Liberation Sans, Arial, sans-serif">4.0</text>
<text x="64.6" y="1638.8" font-size="25.5" text-anchor="end" font-family="Liberation Sans, Arial, sans-serif">4.5</text>
<path d="M72.1 2208.8H84.1M804.9 2208.8H816.9M77.9 2176.69H84.1M810.7 2176.69H816.9M72.1 2144.58H84.1M804.9 2144.58H816.9M77.9 2112.47H84.1M810.7 2112.47H816.9M72.1 2080.36H84.1M804.9 2080.36H816.9M77.9 2048.24H84.1M810.7 2048.24H816.9M72.1 2016.13H84.1M804.9 2016.13H816.9M77.9 1984.02H84.1M810.7 1984.02H816.9M72.1 1951.91H84.1M804.9 1951.91H816.9M77.9 1919.8H84.1M810.7 1919.8H816.9M72.1 1887.69H84.1M804.9 1887.69H816.9M77.9 1855.58H84.1M810.7 1855.58H816.9M72.1 1823.47H84.1M804.9 1823.47H816.9M77.9 1791.36H84.1M810.7 1791.36H816.9M72.1 1759.24H84.1M804.9 1759.24H816.9M77.9 1727.13H84.1M810.7 1727.13H816.9M72.1 1695.02H84.1M804.9 1695.02H816.9M77.9 1662.91H84.1M810.7 1662.91H816.9M72.1 1630.8H84.1M804.9 1630.8H816.9M84.1 1630.8V1637.2M84.1 2208.8V2217M175.7 1630.8V1642.5M175.7 2208.8V2222.3M267.3 1630.8V1637.2M267.3 2208.8V2217M358.9 1630.8V1642.5M358.9 2208.8V2222.3M450.5 1630.8V1637.2M450.5 2208.8V2217M542.1 1630.8V1642.5M542.1 2208.8V2222.3M633.7 1630.8V1637.2M633.7 2208.8V2217M725.3 1630.8V1642.5M725.3 2208.8V2222.3M816.9 1630.8V1637.2M816.9 2208.8V2217" stroke="#000" stroke-width="1.8" fill="none"/>
<text x="175.7" y="1662.34" font-size="30.5" text-anchor="middle" font-family="Liberation Sans, Arial, sans-serif">4.20697</text>
<text x="358.9" y="1856.3" font-size="30.5" text-anchor="middle" font-family="Liberation Sans, Arial, sans-serif">2.69689</text>
<text x="542.1" y="2181.64" font-size="30.5" text-anchor="middle" font-family="Liberation Sans, Arial, sans-serif">0.164</text>
<text x="725.3" y="2200.61" font-size="30.5" text-anchor="middle" font-family="Liberation Sans, Arial, sans-serif">0.0163</text>
<text x="151.05" y="2253.9" font-size="30" font-family="Liberation Serif, serif" font-style="italic">G</text>
<text x="173.6" y="2242.3" font-size="18" font-family="Liberation Serif, serif" font-style="italic">k</text>
<text x="183.8" y="2242.3" font-size="18" font-family="Liberation Serif, serif" font-style="italic">,</text>
<text x="185.2" y="2243.5" font-size="18" font-family="IPAGothic, Liberation Serif, serif" font-style="italic">λ</text>
<text x="172.1" y="2260.5" font-size="18" font-family="Liberation Serif, serif" font-style="italic">N</text>
<text x="319.1" y="2251.66" font-size="29" font-family="Liberation Serif, serif">(</text>
<text x="329.75" y="2251.7" font-size="30" font-family="Liberation Serif, serif" font-style="italic">E</text>
<text x="347.65" y="2258.6" font-size="18" font-family="Liberation Serif, serif" font-style="italic">r</text>
<text x="358.43" y="2251.66" font-size="29" font-family="Liberation Serif, serif">)</text>
<text x="369.6" y="2240.1" font-size="18" font-family="Liberation Serif, serif" font-style="italic">k</text>
<text x="380.6" y="2240.1" font-size="18" font-family="Liberation Serif, serif" font-style="italic">,</text>
<text x="381.9" y="2241.1" font-size="18" font-family="IPAGothic, Liberation Serif, serif" font-style="italic">λ</text>
<text x="370.1" y="2258.4" font-size="18" font-family="Liberation Serif, serif" font-style="italic">N</text>
<text x="516.15" y="2251.6" font-size="30" font-family="Liberation Serif, serif" font-style="italic">H</text>
<text x="542.2" y="2239.4" font-size="18" font-family="Liberation Serif, serif" font-style="italic">k</text>
<text x="552.6" y="2239.4" font-size="18" font-family="Liberation Serif, serif" font-style="italic">,</text>
<text x="554.5" y="2240.4" font-size="18" font-family="IPAGothic, Liberation Serif, serif" font-style="italic">λ</text>
<text x="540.4" y="2258.4" font-size="18" font-family="Liberation Serif, serif" font-style="italic">N</text>
<text x="701.05" y="2249.6" font-size="30" font-family="Liberation Serif, serif" font-style="italic">E</text>
<text x="721.4" y="2237.6" font-size="18" font-family="Liberation Serif, serif" font-style="italic">k</text>
<text x="731.8" y="2237.6" font-size="18" font-family="Liberation Serif, serif" font-style="italic">,</text>
<text x="733.3" y="2238.6" font-size="18" font-family="IPAGothic, Liberation Serif, serif" font-style="italic">λ</text>
<text x="719.9" y="2256.6" font-size="18" font-family="Liberation Serif, serif" font-style="italic">N</text>
<text x="18.5" y="1919.8" transform="rotate(-90 18.5 1919.8)" font-size="25" text-anchor="middle" font-family="Liberation Sans, Arial, sans-serif">CVs</text>
<text x="450.5" y="2314.4" font-size="25.5" text-anchor="middle" font-family="Liberation Sans, Arial, sans-serif">PredictStudents</text>
<line x1="1017" y1="2179.5" x2="1749.8" y2="2179.5" stroke="#a4a4a4" stroke-width="1.2"/>
<line x1="1017" y1="2151.5" x2="1749.8" y2="2151.5" stroke="#a4a4a4" stroke-width="1.2"/>
<line x1="1017" y1="2122.5" x2="1749.8" y2="2122.5" stroke="#a4a4a4" stroke-width="1.2"/>
<line x1="1017" y1="2093.5" x2="1749.8" y2="2093.5" stroke="#a4a4a4" stroke-width="1.2"/>
<line x1="1017" y1="2064.5" x2="1749.8" y2="2064.5" stroke="#a4a4a4" stroke-width="1.2"/>
<line x1="1017" y1="2035.5" x2="1749.8" y2="2035.5" stroke="#a4a4a4" stroke-width="1.2"/>
<line x1="1017" y1="2006.5" x2="1749.8" y2="2006.5" stroke="#a4a4a4" stroke-width="1.2"/>
<line x1="1017" y1="1977.5" x2="1749.8" y2="1977.5" stroke="#a4a4a4" stroke-width="1.2"/>
<line x1="1017" y1="1948.5" x2="1749.8" y2="1948.5" stroke="#a4a4a4" stroke-width="1.2"/>
<line x1="1017" y1="1919.5" x2="1749.8" y2="1919.5" stroke="#a4a4a4" stroke-width="1.2"/>
<line x1="1017" y1="1890.5" x2="1749.8" y2="1890.5" stroke="#a4a4a4" stroke-width="1.2"/>
<line x1="1017" y1="1862.5" x2="1749.8" y2="1862.5" stroke="#a4a4a4" stroke-width="1.2"/>
<line x1="1017" y1="1833.5" x2="1749.8" y2="1833.5" stroke="#a4a4a4" stroke-width="1.2"/>
<line x1="1017" y1="1804.5" x2="1749.8" y2="1804.5" stroke="#a4a4a4" stroke-width="1.2"/>
<line x1="1017" y1="1775.5" x2="1749.8" y2="1775.5" stroke="#a4a4a4" stroke-width="1.2"/>
<line x1="1017" y1="1746.5" x2="1749.8" y2="1746.5" stroke="#a4a4a4" stroke-width="1.2"/>
<line x1="1017" y1="1717.5" x2="1749.8" y2="1717.5" stroke="#a4a4a4" stroke-width="1.2"/>
<line x1="1017" y1="1688.5" x2="1749.8" y2="1688.5" stroke="#a4a4a4" stroke-width="1.2"/>
<line x1="1017" y1="1659.5" x2="1749.8" y2="1659.5" stroke="#a4a4a4" stroke-width="1.2"/>
<rect x="1035.62" y="1670.07" width="146.56" height="538.73" fill="#F58220" stroke="#3953A4" stroke-width="1.8"/>
<rect x="1218.82" y="1908.63" width="146.56" height="300.17" fill="#3953A4" stroke="#3953A4" stroke-width="1.8"/>
<rect x="1402.02" y="2194.23" width="146.56" height="14.57" fill="#6ABD45" stroke="#3953A4" stroke-width="1.8"/>
<rect x="1585.22" y="2207.36" width="146.56" height="1.44" fill="#F0202A" stroke="#3953A4" stroke-width="1.8"/>
<line x1="1017" y1="1629.7" x2="1017" y2="2209.8" stroke="#000" stroke-width="2.2"/>
<line x1="1749.8" y1="1629.7" x2="1749.8" y2="2209.8" stroke="#000" stroke-width="2.2"/>
<line x1="1005" y1="1630.8" x2="1750.9" y2="1630.8" stroke="#000" stroke-width="2.2"/>
<rect x="1017" y="2207.8" width="733.9" height="3.9" fill="#000"/>
<text x="997.5" y="2216.8" font-size="25.5" text-anchor="end" font-family="Liberation Sans, Arial, sans-serif">0.0</text>
<text x="997.5" y="2187.9" font-size="25.5" text-anchor="end" font-family="Liberation Sans, Arial, sans-serif">0.3</text>
<text x="997.5" y="2159" font-size="25.5" text-anchor="end" font-family="Liberation Sans, Arial, sans-serif">0.6</text>
<text x="997.5" y="2130.1" font-size="25.5" text-anchor="end" font-family="Liberation Sans, Arial, sans-serif">0.9</text>
<text x="997.5" y="2101.2" font-size="25.5" text-anchor="end" font-family="Liberation Sans, Arial, sans-serif">1.2</text>
<text x="997.5" y="2072.3" font-size="25.5" text-anchor="end" font-family="Liberation Sans, Arial, sans-serif">1.5</text>
<text x="997.5" y="2043.4" font-size="25.5" text-anchor="end" font-family="Liberation Sans, Arial, sans-serif">1.8</text>
<text x="997.5" y="2014.5" font-size="25.5" text-anchor="end" font-family="Liberation Sans, Arial, sans-serif">2.1</text>
<text x="997.5" y="1985.6" font-size="25.5" text-anchor="end" font-family="Liberation Sans, Arial, sans-serif">2.4</text>
<text x="997.5" y="1956.7" font-size="25.5" text-anchor="end" font-family="Liberation Sans, Arial, sans-serif">2.7</text>
<text x="997.5" y="1927.8" font-size="25.5" text-anchor="end" font-family="Liberation Sans, Arial, sans-serif">3.0</text>
<text x="997.5" y="1898.9" font-size="25.5" text-anchor="end" font-family="Liberation Sans, Arial, sans-serif">3.3</text>
<text x="997.5" y="1870" font-size="25.5" text-anchor="end" font-family="Liberation Sans, Arial, sans-serif">3.6</text>
<text x="997.5" y="1841.1" font-size="25.5" text-anchor="end" font-family="Liberation Sans, Arial, sans-serif">3.9</text>
<text x="997.5" y="1812.2" font-size="25.5" text-anchor="end" font-family="Liberation Sans, Arial, sans-serif">4.2</text>
<text x="997.5" y="1783.3" font-size="25.5" text-anchor="end" font-family="Liberation Sans, Arial, sans-serif">4.5</text>
<text x="997.5" y="1754.4" font-size="25.5" text-anchor="end" font-family="Liberation Sans, Arial, sans-serif">4.8</text>
<text x="997.5" y="1725.5" font-size="25.5" text-anchor="end" font-family="Liberation Sans, Arial, sans-serif">5.1</text>
<text x="997.5" y="1696.6" font-size="25.5" text-anchor="end" font-family="Liberation Sans, Arial, sans-serif">5.4</text>
<text x="997.5" y="1667.7" font-size="25.5" text-anchor="end" font-family="Liberation Sans, Arial, sans-serif">5.7</text>
<text x="997.5" y="1638.8" font-size="25.5" text-anchor="end" font-family="Liberation Sans, Arial, sans-serif">6.0</text>
<path d="M1005 2208.8H1017M1737.8 2208.8H1749.8M1010.8 2199.17H1017M1743.6 2199.17H1749.8M1010.8 2189.53H1017M1743.6 2189.53H1749.8M1005 2179.9H1017M1737.8 2179.9H1749.8M1010.8 2170.27H1017M1743.6 2170.27H1749.8M1010.8 2160.63H1017M1743.6 2160.63H1749.8M1005 2151H1017M1737.8 2151H1749.8M1010.8 2141.37H1017M1743.6 2141.37H1749.8M1010.8 2131.73H1017M1743.6 2131.73H1749.8M1005 2122.1H1017M1737.8 2122.1H1749.8M1010.8 2112.47H1017M1743.6 2112.47H1749.8M1010.8 2102.83H1017M1743.6 2102.83H1749.8M1005 2093.2H1017M1737.8 2093.2H1749.8M1010.8 2083.57H1017M1743.6 2083.57H1749.8M1010.8 2073.93H1017M1743.6 2073.93H1749.8M1005 2064.3H1017M1737.8 2064.3H1749.8M1010.8 2054.67H1017M1743.6 2054.67H1749.8M1010.8 2045.03H1017M1743.6 2045.03H1749.8M1005 2035.4H1017M1737.8 2035.4H1749.8M1010.8 2025.77H1017M1743.6 2025.77H1749.8M1010.8 2016.13H1017M1743.6 2016.13H1749.8M1005 2006.5H1017M1737.8 2006.5H1749.8M1010.8 1996.87H1017M1743.6 1996.87H1749.8M1010.8 1987.23H1017M1743.6 1987.23H1749.8M1005 1977.6H1017M1737.8 1977.6H1749.8M1010.8 1967.97H1017M1743.6 1967.97H1749.8M1010.8 1958.33H1017M1743.6 1958.33H1749.8M1005 1948.7H1017M1737.8 1948.7H1749.8M1010.8 1939.07H1017M1743.6 1939.07H1749.8M1010.8 1929.43H1017M1743.6 1929.43H1749.8M1005 1919.8H1017M1737.8 1919.8H1749.8M1010.8 1910.17H1017M1743.6 1910.17H1749.8M1010.8 1900.53H1017M1743.6 1900.53H1749.8M1005 1890.9H1017M1737.8 1890.9H1749.8M1010.8 1881.27H1017M1743.6 1881.27H1749.8M1010.8 1871.63H1017M1743.6 1871.63H1749.8M1005 1862H1017M1737.8 1862H1749.8M1010.8 1852.37H1017M1743.6 1852.37H1749.8M1010.8 1842.73H1017M1743.6 1842.73H1749.8M1005 1833.1H1017M1737.8 1833.1H1749.8M1010.8 1823.47H1017M1743.6 1823.47H1749.8M1010.8 1813.83H1017M1743.6 1813.83H1749.8M1005 1804.2H1017M1737.8 1804.2H1749.8M1010.8 1794.57H1017M1743.6 1794.57H1749.8M1010.8 1784.93H1017M1743.6 1784.93H1749.8M1005 1775.3H1017M1737.8 1775.3H1749.8M1010.8 1765.67H1017M1743.6 1765.67H1749.8M1010.8 1756.03H1017M1743.6 1756.03H1749.8M1005 1746.4H1017M1737.8 1746.4H1749.8M1010.8 1736.77H1017M1743.6 1736.77H1749.8M1010.8 1727.13H1017M1743.6 1727.13H1749.8M1005 1717.5H1017M1737.8 1717.5H1749.8M1010.8 1707.87H1017M1743.6 1707.87H1749.8M1010.8 1698.23H1017M1743.6 1698.23H1749.8M1005 1688.6H1017M1737.8 1688.6H1749.8M1010.8 1678.97H1017M1743.6 1678.97H1749.8M1010.8 1669.33H1017M1743.6 1669.33H1749.8M1005 1659.7H1017M1737.8 1659.7H1749.8M1010.8 1650.07H1017M1743.6 1650.07H1749.8M1010.8 1640.43H1017M1743.6 1640.43H1749.8M1005 1630.8H1017M1737.8 1630.8H1749.8M1017 1630.8V1637.2M1017 2208.8V2217M1108.6 1630.8V1642.5M1108.6 2208.8V2222.3M1200.2 1630.8V1637.2M1200.2 2208.8V2217M1291.8 1630.8V1642.5M1291.8 2208.8V2222.3M1383.4 1630.8V1637.2M1383.4 2208.8V2217M1475 1630.8V1642.5M1475 2208.8V2222.3M1566.6 1630.8V1637.2M1566.6 2208.8V2217M1658.2 1630.8V1642.5M1658.2 2208.8V2222.3M1749.8 1630.8V1637.2M1749.8 2208.8V2217" stroke="#000" stroke-width="1.8" fill="none"/>
<text x="1108.6" y="1663.97" font-size="30.5" text-anchor="middle" font-family="Liberation Sans, Arial, sans-serif">5.59233</text>
<text x="1291.8" y="1902.53" font-size="30.5" text-anchor="middle" font-family="Liberation Sans, Arial, sans-serif">3.11599</text>
<text x="1475" y="2188.13" font-size="30.5" text-anchor="middle" font-family="Liberation Sans, Arial, sans-serif">0.15126</text>
<text x="1658.2" y="2201.26" font-size="30.5" text-anchor="middle" font-family="Liberation Sans, Arial, sans-serif">0.01495</text>
<text x="1083.95" y="2253.9" font-size="30" font-family="Liberation Serif, serif" font-style="italic">G</text>
<text x="1106.5" y="2242.3" font-size="18" font-family="Liberation Serif, serif" font-style="italic">k</text>
<text x="1116.7" y="2242.3" font-size="18" font-family="Liberation Serif, serif" font-style="italic">,</text>
<text x="1118.1" y="2243.5" font-size="18" font-family="IPAGothic, Liberation Serif, serif" font-style="italic">λ</text>
<text x="1105" y="2260.5" font-size="18" font-family="Liberation Serif, serif" font-style="italic">N</text>
<text x="1252" y="2251.66" font-size="29" font-family="Liberation Serif, serif">(</text>
<text x="1262.65" y="2251.7" font-size="30" font-family="Liberation Serif, serif" font-style="italic">E</text>
<text x="1280.55" y="2258.6" font-size="18" font-family="Liberation Serif, serif" font-style="italic">r</text>
<text x="1291.33" y="2251.66" font-size="29" font-family="Liberation Serif, serif">)</text>
<text x="1302.5" y="2240.1" font-size="18" font-family="Liberation Serif, serif" font-style="italic">k</text>
<text x="1313.5" y="2240.1" font-size="18" font-family="Liberation Serif, serif" font-style="italic">,</text>
<text x="1314.8" y="2241.1" font-size="18" font-family="IPAGothic, Liberation Serif, serif" font-style="italic">λ</text>
<text x="1303" y="2258.4" font-size="18" font-family="Liberation Serif, serif" font-style="italic">N</text>
<text x="1449.05" y="2251.6" font-size="30" font-family="Liberation Serif, serif" font-style="italic">H</text>
<text x="1475.1" y="2239.4" font-size="18" font-family="Liberation Serif, serif" font-style="italic">k</text>
<text x="1485.5" y="2239.4" font-size="18" font-family="Liberation Serif, serif" font-style="italic">,</text>
<text x="1487.4" y="2240.4" font-size="18" font-family="IPAGothic, Liberation Serif, serif" font-style="italic">λ</text>
<text x="1473.3" y="2258.4" font-size="18" font-family="Liberation Serif, serif" font-style="italic">N</text>
<text x="1633.95" y="2249.6" font-size="30" font-family="Liberation Serif, serif" font-style="italic">E</text>
<text x="1654.3" y="2237.6" font-size="18" font-family="Liberation Serif, serif" font-style="italic">k</text>
<text x="1664.7" y="2237.6" font-size="18" font-family="Liberation Serif, serif" font-style="italic">,</text>
<text x="1666.2" y="2238.6" font-size="18" font-family="IPAGothic, Liberation Serif, serif" font-style="italic">λ</text>
<text x="1652.8" y="2256.6" font-size="18" font-family="Liberation Serif, serif" font-style="italic">N</text>
<text x="951.4" y="1919.8" transform="rotate(-90 951.4 1919.8)" font-size="25" text-anchor="middle" font-family="Liberation Sans, Arial, sans-serif">CVs</text>
<text x="1383.4" y="2314.4" font-size="25.5" text-anchor="middle" font-family="Liberation Sans, Arial, sans-serif">SUPPORT2</text>
</svg>
</body></html>
